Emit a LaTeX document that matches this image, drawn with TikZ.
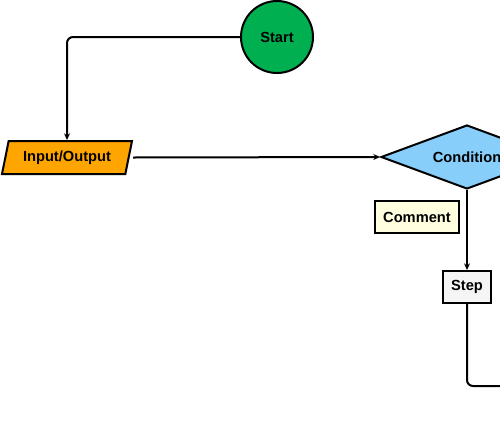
\documentclass[tikz,border=0pt]{standalone}
\usepackage{fontspec}
\setsansfont{Liberation Sans}
\usepackage{xcolor}
\usepackage{tikz}
\usetikzlibrary{arrows.meta, positioning, shapes.geometric}
\definecolor{startgreen}{RGB}{0, 176, 80}
\definecolor{ioorange}{RGB}{255, 165, 0}
\definecolor{condblue}{RGB}{135, 206, 250}
\definecolor{notecream}{RGB}{255, 255, 224}
\definecolor{stepgrey}{RGB}{245, 245, 245}

\begin{document}
\begin{tikzpicture}[x=0.75pt, y=-0.75pt, >={Stealth[length=5pt, width=4.5pt]},
    font=\sffamily\bfseries\fontsize{11}{13}\selectfont,
    every node/.style={draw, line width=1.5pt, inner sep=0pt},
    link/.style={line width=1.5pt, rounded corners=4.5pt},
    startnode/.style={circle, fill=startgreen, minimum size=54pt},
    ionode/.style={trapezium, trapezium left angle=64, trapezium right angle=116,
        trapezium stretches body, fill=ioorange, minimum width=97.5pt, minimum height=24.75pt},
    condnode/.style={diamond, aspect=2.7, fill=condblue, minimum width=129pt, minimum height=48pt},
    notebox/.style={rectangle, fill=notecream, minimum width=63pt, minimum height=24pt},
    stepbox/.style={rectangle, fill=stepgrey, minimum width=36pt, minimum height=24pt}]
    \path[use as bounding box, clip] (0,0) rectangle (500,422);
    % shapes
    \node[startnode] (start) at (277,37) {Start};
    \node[ionode] (io) at (67,157.5) {Input/Output};
    \node[condnode] (cond) at (467,157) {Condition};
    \node[notebox] (note) at (417,217) {Comment};
    \node[stepbox] (step) at (467,287) {Step};
    \coordinate (exit) at (540,386);
    % connectors
    \draw[link, ->] (start.west) -| (io.north);
    \draw[link, ->] (io.top right corner |- io.east) -- (cond.west);
    \draw[link, ->] (cond.south) -- (step.north);
    \draw[link] (step.south) |- (exit);
\end{tikzpicture}
\end{document}
